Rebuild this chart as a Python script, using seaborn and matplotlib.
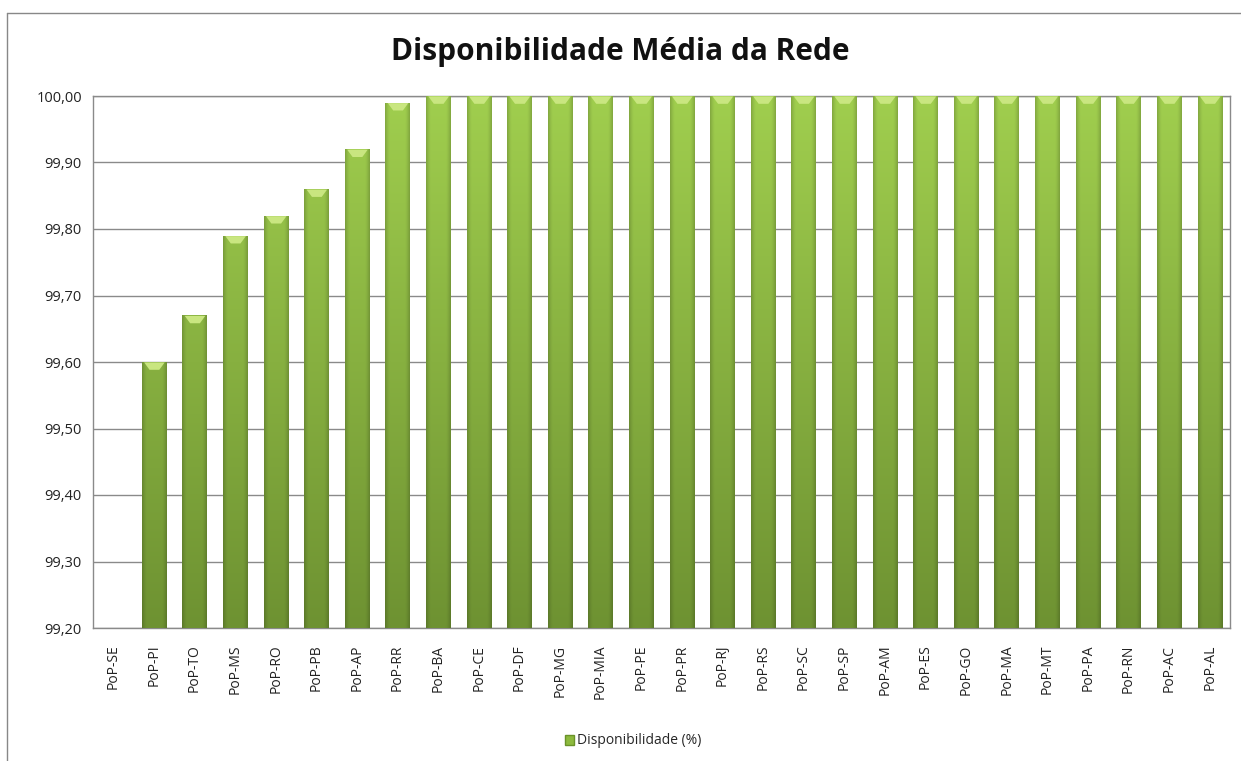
import numpy as np
import pandas as pd
import matplotlib
matplotlib.use("Agg")
import matplotlib.pyplot as plt
import seaborn as sns
from matplotlib.patches import Patch

categories = ["PoP-SE", "PoP-PI", "PoP-TO", "PoP-MS", "PoP-RO", "PoP-PB", "PoP-AP", "PoP-RR",
              "PoP-BA", "PoP-CE", "PoP-DF", "PoP-MG", "PoP-MIA", "PoP-PE", "PoP-PR", "PoP-RJ",
              "PoP-RS", "PoP-SC", "PoP-SP", "PoP-AM", "PoP-ES", "PoP-GO", "PoP-MA", "PoP-MT",
              "PoP-PA", "PoP-RN", "PoP-AC", "PoP-AL"]
values = [99.00, 99.60, 99.67, 99.79, 99.82, 99.86, 99.92, 99.99,
          100.00, 100.00, 100.00, 100.00, 100.00, 100.00, 100.00, 100.00,
          100.00, 100.00, 100.00, 100.00, 100.00, 100.00, 100.00, 100.00,
          100.00, 100.00, 100.00, 100.00]
yticks = [99.20, 99.30, 99.40, 99.50, 99.60, 99.70, 99.80, 99.90, 100.00]
series_name = "Disponibilidade (%)"
title = "Disponibilidade Média da Rede"

df = pd.DataFrame({"PoP": categories, "valor": values})

sns.set_theme(style="white")
plt.rcParams["font.family"] = ["Open Sans", "DejaVu Sans"]

fig = plt.figure(figsize=(12.41, 7.61), dpi=100)
ax = fig.add_axes([93/1241, 1-628/761, (1230-93)/1241, (628-96)/761])

sns.barplot(data=df, x="PoP", y="valor", color="#8dba3e", width=0.6, ax=ax,
            saturation=1, edgecolor="none", zorder=2)

ymin, ymax = 99.20, 100.00
ax.set_ylim(ymin, ymax)
ax.set_yticks(yticks)
ax.set_yticklabels([f"{v:.2f}".replace(".", ",") for v in yticks], fontsize=10.5, color="#222222")
ax.set_xlim(-0.5, len(categories) - 0.5)
ax.set_xlabel("")
ax.set_ylabel("")
ax.tick_params(axis="x", labelrotation=90, labelsize=10, colors="#222222", length=0, pad=12)
ax.tick_params(axis="y", length=0, pad=8)
ax.yaxis.grid(True, color="#8a8a8a", linewidth=1.0, zorder=0)
ax.set_axisbelow(True)
for s in ax.spines.values():
    s.set_color("#8a8a8a")
    s.set_linewidth(1.0)

# 2D shading: vertical light->dark, darker edges (cylinder look)
ny, nx = 128, 48
top_c = np.array([160, 206, 78]) / 255
bot_c = np.array([110, 146, 50]) / 255
t = np.linspace(0, 1, ny)[:, None, None]  # 0 at top row
vert = top_c * (1 - t) + bot_c * t
xs = np.linspace(-1, 1, nx)
edge = 1 - 0.18 * np.clip((np.abs(xs) - 0.6) / 0.4, 0, 1) ** 1.5
img = np.clip(vert * edge[None, :, None], 0, 1)

for p in list(ax.patches):
    x0, w = p.get_x(), p.get_width()
    top = min(p.get_y() + p.get_height(), ymax)
    if top <= ymin:
        continue
    im = ax.imshow(img, aspect="auto", extent=[x0, x0 + w, ymin, ymax],
                   zorder=3, interpolation="bilinear", origin="upper")
    im.set_clip_path(p)
    cap = 0.011
    ax.fill_between([x0 + w * 0.08, x0 + w * 0.3, x0 + w * 0.7, x0 + w * 0.92],
                    [top, top - cap, top - cap, top], [top] * 4,
                    color="#c9e680", zorder=4, linewidth=0)
ax.set_xlim(-0.5, len(categories) - 0.5)
ax.set_ylim(ymin, ymax)

fig.suptitle(title, x=0.5, y=1-52/761, va="center", fontsize=21.5, fontweight="bold", color="#111111")

handle = Patch(facecolor="#8dba3e", edgecolor="#6a9229")
fig.legend([handle], [series_name], loc="center", bbox_to_anchor=(633/1241, 1-741/761),
           frameon=False, fontsize=10, handlelength=0.7, handleheight=0.7, handletextpad=0.2)

fig.add_artist(plt.Line2D([7/1241, 7/1241], [0, 1-13/761], transform=fig.transFigure, color="#888888", lw=1))
fig.add_artist(plt.Line2D([7/1241, 1], [1-13/761, 1-13/761], transform=fig.transFigure, color="#888888", lw=1))

fig.savefig("out.png", dpi=100)
